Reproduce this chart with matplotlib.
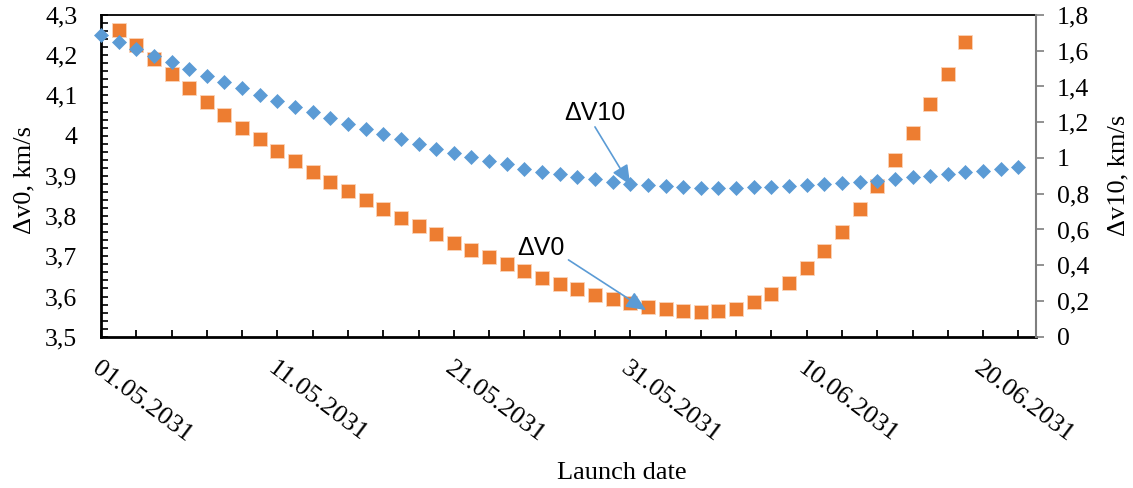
import matplotlib
matplotlib.use('Agg')
import matplotlib.pyplot as plt
import numpy as np
import pandas as pd
from matplotlib.ticker import FuncFormatter, MultipleLocator

plt.rcParams['font.family'] = ['Liberation Serif', 'DejaVu Serif']

# launch dates, one per day
launch_dates = pd.date_range('2031-05-01', '2031-06-22', freq='D')

# delta V10, km/s (right axis), 01.05 .. 22.06
dv10 = [1.688, 1.651, 1.610, 1.571, 1.536, 1.496, 1.459, 1.425, 1.390, 1.353,
        1.321, 1.287, 1.256, 1.224, 1.190, 1.162, 1.133, 1.105, 1.077, 1.050,
        1.028, 1.004, 0.983, 0.965, 0.938, 0.923, 0.909, 0.892, 0.881, 0.867,
        0.856, 0.849, 0.843, 0.836, 0.830, 0.830, 0.830, 0.836, 0.840, 0.844,
        0.847, 0.855, 0.861, 0.867, 0.873, 0.881, 0.892, 0.901, 0.910, 0.920,
        0.929, 0.940, 0.951]

# delta V0, km/s (left axis), 02.05 .. 19.06
dv0 = [4.263, 4.225, 4.190, 4.153, 4.119, 4.084, 4.051, 4.020, 3.992, 3.963,
       3.936, 3.910, 3.885, 3.863, 3.840, 3.818, 3.796, 3.775, 3.755, 3.734,
       3.716, 3.697, 3.680, 3.663, 3.645, 3.631, 3.618, 3.604, 3.593, 3.583,
       3.575, 3.568, 3.563, 3.561, 3.565, 3.570, 3.586, 3.605, 3.634, 3.670,
       3.713, 3.761, 3.818, 3.876, 3.940, 4.007, 4.079, 4.153, 4.232]
dv0_dates = launch_dates[1:1 + len(dv0)]

tick_dates = launch_dates[::2]
tick_labels = [d.strftime('%d.%m.%Y') if i % 5 == 0 else '' for i, d in enumerate(tick_dates)]

blue = '#5B9BD5'
orange = '#ED7D31'


def comma(v, pos):
    s = f'{v:.1f}'
    if s.endswith('.0'):
        s = s[:-2]
    return s.replace('.', ',')


fig = plt.figure(figsize=(11.33, 4.88), dpi=100)
ax = fig.add_axes([0.0891, 0.3100, 0.8253, 0.6593])
ax2 = ax.twinx()

ax.plot(dv0_dates, dv0, 's', color=orange, ms=10, mec='#FAD3B8', mew=0.6, clip_on=False, zorder=3)
ax2.plot(launch_dates, dv10, 'D', color=blue, ms=7.5, mec=blue, mew=0.5, clip_on=False, zorder=3)

ax.set_xlim(launch_dates[0], launch_dates[0] + pd.Timedelta(days=53))
ax.set_ylim(3.5, 4.3)
ax2.set_ylim(0, 1.8)

ax.set_xticks(tick_dates)
ax.set_xticklabels(tick_labels, rotation=-37, ha='left', va='top', rotation_mode='anchor')
ax.tick_params(axis='x', direction='in', length=5, width=1.3, labelsize=19, pad=15)

ax.yaxis.set_major_locator(MultipleLocator(0.1))
ax.yaxis.set_minor_locator(MultipleLocator(0.02))
ax.yaxis.set_major_formatter(FuncFormatter(comma))
ax.tick_params(axis='y', which='both', direction='in', length=5, width=1.2, labelsize=18.5, pad=17)

ax2.yaxis.set_major_locator(MultipleLocator(0.2))
ax2.yaxis.set_major_formatter(FuncFormatter(comma))
ax2.tick_params(axis='y', direction='out', length=6, width=1.2, color='#7F7F7F', labelsize=18.5, pad=9)

for side in ['left', 'bottom']:
    ax.spines[side].set_linewidth(2)
    ax.spines[side].set_color('black')
ax.spines['top'].set_linewidth(1.3)
ax.spines['right'].set_visible(False)
for side in ['left', 'bottom', 'top']:
    ax2.spines[side].set_visible(False)
ax2.spines['right'].set_color('#7F7F7F')
ax2.spines['right'].set_linewidth(1.5)

fig.text(0.0216, 0.631, 'Δv0, km/s', rotation=90, ha='center', va='center', fontsize=19)
fig.text(0.9876, 0.641, 'Δv10, km/s', rotation=90, ha='center', va='center', fontsize=19)
fig.text(0.549, 0.030, 'Launch date', ha='center', va='center', fontsize=19)

# labels with arrows
d0 = launch_dates[0]
ax2.text(d0 + pd.Timedelta(days=28.0), 1.252, 'ΔV10', ha='center', va='center',
         fontsize=18, family='Liberation Sans')
ax2.annotate('', xy=(d0 + pd.Timedelta(days=30.0), 0.849), xytext=(d0 + pd.Timedelta(days=28.0), 1.174),
             arrowprops=dict(arrowstyle='-|>,head_length=0.8,head_width=0.35', color=blue, lw=1.2,
                             shrinkA=0, shrinkB=0, mutation_scale=15), zorder=5)
ax.text(d0 + pd.Timedelta(days=24.96), 3.721, 'ΔV0', ha='center', va='center',
        fontsize=18, family='Liberation Sans')
ax.annotate('', xy=(d0 + pd.Timedelta(days=30.9), 3.566), xytext=(d0 + pd.Timedelta(days=26.5), 3.691),
            arrowprops=dict(arrowstyle='-|>,head_length=0.8,head_width=0.35', color=blue, lw=1.2,
                            shrinkA=0, shrinkB=0, mutation_scale=15), zorder=5)

fig.savefig('out.png', dpi=100)
